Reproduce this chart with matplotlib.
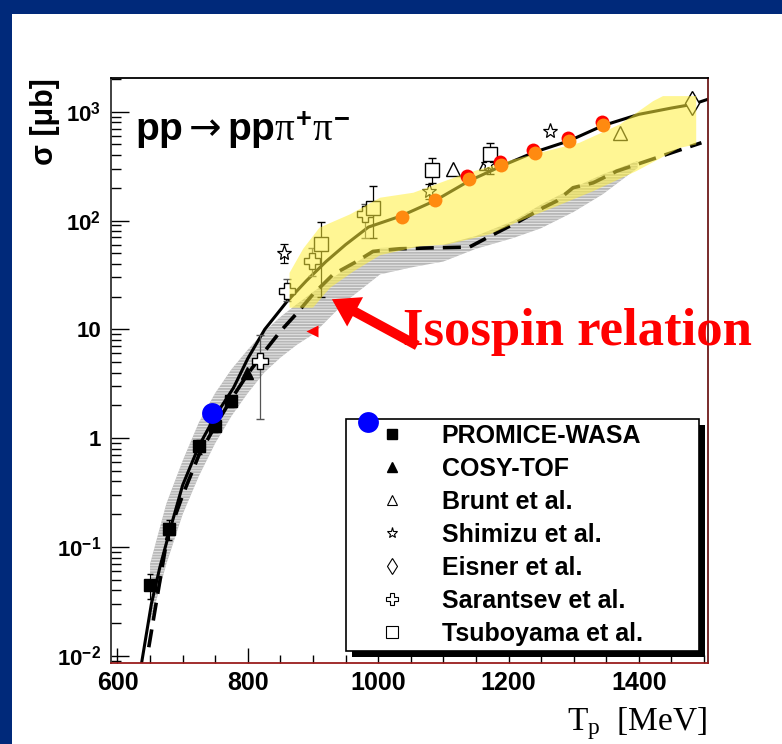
import numpy as np
import matplotlib
matplotlib.use('Agg')
import matplotlib.pyplot as plt
from matplotlib.patches import Rectangle
from matplotlib.lines import Line2D

plt.rcParams['font.family'] = ['Liberation Sans', 'DejaVu Sans']
plt.rcParams['mathtext.fontset'] = 'custom'
plt.rcParams['mathtext.rm'] = 'Liberation Sans:bold'
plt.rcParams['mathtext.bf'] = 'Liberation Sans:bold'
plt.rcParams['mathtext.it'] = 'Liberation Serif'
plt.rcParams['mathtext.sf'] = 'DejaVu Sans'
plt.rcParams['mathtext.fallback'] = 'stixsans'
plt.rcParams['hatch.linewidth'] = 0.6

# --- curves (T_p in MeV, sigma in mub) ---
solid_x = [637, 652, 665, 680, 700, 725, 750, 778, 800, 826, 860, 890, 920, 950,
           985, 1035, 1087, 1140, 1190, 1240, 1293, 1345, 1400, 1450, 1483, 1506]
solid_y = [0.0086, 0.03, 0.065, 0.14, 0.37, 0.85, 1.6, 2.9, 5.4, 10, 18, 28, 42, 60,
           87, 110, 152, 232, 318, 425, 540, 745, 945, 1080, 1170, 1300]

dash_x = [648, 676, 700, 725, 750, 775, 800, 825, 850, 875, 900, 931, 967, 992, 1033,
          1080, 1140, 1176, 1217, 1253, 1274, 1299, 1330, 1366, 1427, 1496]
dash_y = [0.012, 0.12, 0.3, 0.7, 1.3, 2.3, 3.9, 6.2, 9.6, 14, 21, 32, 42, 52, 55,
          56, 57, 74, 99, 131, 151, 200, 222, 284, 377, 518]

# gray (isospin relation) band
gband_x = [650, 675, 700, 725, 750, 775, 800, 825, 850, 875, 900, 950, 1003, 1050,
           1100, 1150, 1207, 1250, 1300, 1345, 1398]
gband_lo = [0.02, 0.07, 0.2, 0.45, 0.9, 1.6, 2.6, 4.0, 5.5, 7.2, 9.0, 18, 32, 37,
            42, 55, 69, 85, 120, 175, 304]
gband_hi = [0.07, 0.25, 0.62, 1.4, 2.6, 4.3, 6.5, 9.5, 13, 17, 22, 36, 56, 57,
            60, 72, 99, 140, 200, 266, 352]

# yellow band
yband_lo_x = [864, 900, 926, 962, 1003, 1064, 1105, 1171, 1217, 1268, 1330, 1396, 1463, 1488]
yband_lo = [15.8, 15.8, 24, 34, 48, 58, 60, 74.5, 98.7, 131, 186, 284, 466, 500]
yband_hi_x = [864, 885, 910, 957, 1003, 1054, 1130, 1207, 1309, 1371, 1422, 1437, 1488]
yband_hi = [33, 55, 86, 114, 162, 180, 265, 363, 518, 764, 1250, 1390, 1390]

# --- data sets ---
promice_x = [650, 679, 725, 750, 774]
promice_y = [0.045, 0.147, 0.84, 1.29, 2.19]
promice_err = [0.012, 0.03, 0.12, 0.15, 0.25]

cosy_x = [799]
cosy_y = [3.96]

brunt_x = [1115, 1166, 1371]
brunt_y = [295, 339, 640]

shimizu_x = [856, 1078, 1168, 1263]
shimizu_y = [50.5, 186, 330, 664]
shimizu_err = [10, 30, 40, 0]

eisner_x = [1482]
eisner_y = [1208]

sarantsev_x = [819, 860, 898, 980]
sarantsev_y = [5.1, 22.4, 42.4, 113.8]
sarantsev_lo = [1.5, 18.2, 31, 69]
sarantsev_hi = [8.85, 29, 56, 141]

tsuboyama_x = [912, 992.5, 1082, 1171]
tsuboyama_y = [61, 131, 289, 405]
tsuboyama_lo = [19.8, 69, 222, 268]
tsuboyama_hi = [97, 207, 377, 517]

red_x = [1137, 1187, 1238, 1291, 1343]
red_y = [255, 345, 447, 574, 798]
orange_x = [1036, 1087, 1140, 1189, 1240, 1293, 1345]
orange_y = [108, 153, 239, 323, 419, 538, 748]

blue_x = [745.6, 983.7]
blue_y = [1.69, 1.41]

red_tri_x = [898]
red_tri_y = [9.6]

legend_labels = ['PROMICE-WASA', 'COSY-TOF', 'Brunt et al.', 'Shimizu et al.',
                 'Eisner et al.', 'Sarantsev et al.', 'Tsuboyama et al.']

x_ticks = [600, 800, 1000, 1200, 1400]
y_ticks = [0.01, 0.1, 1, 10, 100, 1000]
y_ticklabels = [r'$\mathbf{10}^{\mathbf{-2}}$', r'$\mathbf{10}^{\mathbf{-1}}$', '1', '10',
                r'$\mathbf{10}^{\mathbf{2}}$', r'$\mathbf{10}^{\mathbf{3}}$']

fig = plt.figure(figsize=(7.82, 7.44), dpi=100)
fig.patch.set_facecolor('#00297a')
fig.add_artist(Rectangle((12 / 782, 0), 1, 1 - 14 / 744, transform=fig.transFigure,
                         facecolor='white', edgecolor='none', zorder=-10))

ax = fig.add_axes([0.1419, 0.1089, 0.7634, 0.7863])
ax.set_facecolor('white')
ax.set_yscale('log')
ax.set_xlim(590, 1506)
ax.set_ylim(0.0086, 2040)

# gray hatched band
ax.fill_between(gband_x, gband_lo, gband_hi, facecolor='#b8b8b8', edgecolor='#ececec',
                hatch='------', linewidth=0, zorder=1)

# curves
ax.plot(solid_x, solid_y, color='black', lw=2.2, zorder=2)
ax.plot(dash_x, dash_y, color='black', lw=2.6, dashes=(5, 2.5), zorder=2)

# data points
ax.errorbar(promice_x, promice_y, yerr=promice_err, fmt='s', color='black', ms=8.5,
            capsize=2, elinewidth=0.8, zorder=3)
ax.plot(cosy_x, cosy_y, '^', color='black', ms=9, zorder=3)
ax.plot(brunt_x, brunt_y, '^', mfc='white', mec='black', ms=10, mew=1, zorder=3)
ax.errorbar(shimizu_x, shimizu_y, yerr=shimizu_err, fmt='*', mfc='white', mec='black',
            ecolor='black', ms=11, mew=0.9, capsize=3, elinewidth=0.8, zorder=3)
ax.plot(eisner_x, eisner_y, 'd', mfc='white', mec='black', ms=12, mew=1, zorder=3)
sar_err = [np.array(sarantsev_y) - np.array(sarantsev_lo),
           np.array(sarantsev_hi) - np.array(sarantsev_y)]
ax.errorbar(sarantsev_x, sarantsev_y, yerr=sar_err, fmt='P', mfc='white', mec='black',
            ecolor='#555555', ms=12, mew=1, capsize=3, elinewidth=0.9, zorder=3)
tsu_err = [np.array(tsuboyama_y) - np.array(tsuboyama_lo),
           np.array(tsuboyama_hi) - np.array(tsuboyama_y)]
ax.errorbar(tsuboyama_x, tsuboyama_y, yerr=tsu_err, fmt='s', mfc='white', mec='black',
            ecolor='black', ms=10, mew=1, capsize=3, elinewidth=0.9, zorder=3)

# yellow band drawn over lines (translucent)
ax.fill(np.r_[yband_lo_x, yband_hi_x[::-1]], np.r_[yband_lo, yband_hi[::-1]],
        facecolor='#fff03c', alpha=0.55, edgecolor='none', zorder=4)

# red / orange circles
ax.plot(red_x, red_y, 'o', color='#ff0000', ms=10, mec='none', zorder=5)
ax.plot(orange_x, orange_y, 'o', color='#ff8a10', ms=10, mec='none', zorder=5)
ax.plot(red_tri_x, red_tri_y, '<', color='#ff0000', ms=8, mec='none', zorder=5)

# legend
handles = [
    Line2D([], [], ls='none', marker='s', color='black', ms=7),
    Line2D([], [], ls='none', marker='^', color='black', ms=7),
    Line2D([], [], ls='none', marker='^', mfc='white', mec='black', ms=7, mew=0.8),
    Line2D([], [], ls='none', marker='*', mfc='white', mec='black', ms=8, mew=0.8),
    Line2D([], [], ls='none', marker='d', mfc='white', mec='black', ms=8, mew=0.8),
    Line2D([], [], ls='none', marker='P', mfc='white', mec='black', ms=8, mew=0.8),
    Line2D([], [], ls='none', marker='s', mfc='white', mec='black', ms=8, mew=0.8),
]
leg = ax.legend(handles, legend_labels, loc='upper left',
                bbox_to_anchor=(0.393, 0.021, 0.592, 0.396), mode='expand',
                borderaxespad=0, borderpad=0.2, labelspacing=0.36, handlelength=3.28,
                handletextpad=0.36, fancybox=False, edgecolor='black', framealpha=1,
                prop={'weight': 'bold', 'size': 18})
leg.get_frame().set_linewidth(1.2)
leg.set_zorder(6)

# thick black drop shadow (6 px right / down) behind the legend box
fig.canvas.draw()
lb = leg.get_window_extent()
inv = ax.transAxes.inverted()
(sx0, sy0), (sx1, sy1) = inv.transform([(lb.x0 + 6, lb.y0 - 6), (lb.x1 + 6, lb.y1 - 6)])
ax.add_patch(Rectangle((sx0, sy0), sx1 - sx0, sy1 - sy0, transform=ax.transAxes,
                       facecolor='black', edgecolor='none', zorder=5.9))

# blue circles on top
ax.plot(blue_x, blue_y, 'o', color='#0000ff', ms=15, mec='none', zorder=7, clip_on=False)

# isospin arrow
ax.annotate('', xy=(929, 18.9), xytext=(1060, 7.1),
            arrowprops=dict(facecolor='#ff0000', edgecolor='none', width=7,
                            headwidth=24, headlength=19), zorder=8)

# axes styling
ax.set_xticks(x_ticks)
ax.set_xticks(np.arange(600, 1501, 50), minor=True)
ax.set_yticks(y_ticks)
ax.set_yticklabels(y_ticklabels)
ax.tick_params(axis='x', which='major', direction='in', length=11, width=1.0,
               labelsize=18, pad=6, top=False)
ax.tick_params(axis='x', which='minor', direction='in', length=5.5, width=1.0, top=False)
ax.tick_params(axis='y', which='major', direction='in', length=13, width=1.0,
               labelsize=16, pad=7, right=False)
ax.tick_params(axis='y', which='minor', direction='in', length=7.5, width=1.0, right=False)
for lab in ax.get_xticklabels() + ax.get_yticklabels():
    lab.set_fontweight('bold')
ax.spines['left'].set_color('#333333')
ax.spines['top'].set_color('black')
ax.spines['bottom'].set_color('#9a1c1c')
ax.spines['right'].set_color('#6e1a1a')
for s in ax.spines.values():
    s.set_linewidth(1.3)

# texts
ax.text(0.040, 0.911, r'$\mathbf{pp}\mathsf{\rightarrow}\mathbf{pp}\pi^{+}\pi^{-}$',
        transform=ax.transAxes, fontsize=28, va='center', ha='left')
fig.text(45 / 782, 1 - 121.5 / 744, 'σ [μb]', rotation=90, fontsize=22,
         fontweight='bold', ha='center', va='center')
fig.text(707 / 782, 0.028, r'$T_{p}$  [MeV]', fontsize=24, family='Liberation Serif',
         ha='right', va='center')
fig.text(403 / 782, 1 - 332 / 744, 'Isospin relation', fontsize=38,
         family='Liberation Serif', fontweight='bold', color='#ff0000',
         ha='left', va='center')

fig.savefig('out.png', dpi=100)
